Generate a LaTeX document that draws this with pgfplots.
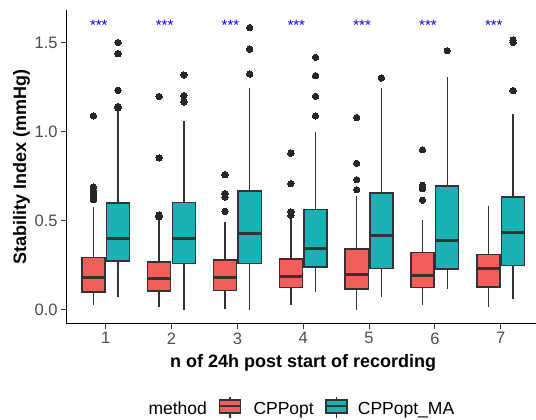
\documentclass[border=0pt]{standalone}
\usepackage{fontspec}
\setmainfont{Liberation Sans}
\usepackage{pgfplots}
\pgfplotsset{compat=1.18}
\usepgfplotslibrary{statistics}
\definecolor{cppred}{HTML}{F35E5A}
\definecolor{cppteal}{HTML}{19B2B4}
\definecolor{gray20}{HTML}{333333}
\definecolor{gray30}{HTML}{4D4D4D}

% one box: position, lower whisker, Q1, median, Q3, upper whisker, colour
\newcommand{\bx}[7]{%
  \addplot[boxplot prepared={draw position=#1, lower whisker=#2,
      lower quartile=#3, median=#4, upper quartile=#5, upper whisker=#6,
      draw direction=y},
    fill=#7, draw=gray20, line width=1.4pt,
    mark=*, mark size=3.2pt, mark options={draw=black!85, fill=black!85, line width=0pt}]}

\begin{document}
\begin{tikzpicture}[x=1pt,y=1pt]
\useasboundingbox (-66.2,-96) rectangle (469.8,324);
\begin{axis}[
  scale only axis, width=474pt, height=314pt,
  xmin=0.4, xmax=7.6, ymin=-0.0786, ymax=1.6835,
  axis x line*=bottom, axis y line*=left,
  axis line style={line width=1pt, -},
  xtick={1,...,7}, ytick={0,0.5,1,1.5},
  yticklabel style={/pgf/number format/.cd, fixed, fixed zerofill, precision=1},
  /pgf/number format/assume math mode=true,
  tick align=outside, major tick length=5pt,
  tick style={line width=1pt, black!80},
  ticklabel style={font=\fontsize{16.5}{18}\selectfont, text=gray30},
  xlabel={\bfseries n of 24h post start of recording},
  ylabel={\bfseries Stability Index (mmHg)},
  label style={font=\fontsize{18}{20}\selectfont},
  xlabel style={yshift=-3pt},
  ylabel style={yshift=-2pt},
  boxplot/box extend=0.35, boxplot/whisker extend=0,
  boxplot/every median/.style={line width=3pt},
  clip=false,
]
% day 1
\bx{0.8125}{0.028}{0.102}{0.181}{0.295}{0.578}{cppred} table[row sep=\\, y index=0] {y\\ 0.619\\ 0.635\\ 0.647\\ 0.660\\ 0.671\\ 0.690\\ 1.089\\};
\bx{1.1875}{0.074}{0.276}{0.403}{0.600}{1.125}{cppteal} table[row sep=\\, y index=0] {y\\ 1.134\\ 1.142\\ 1.233\\ 1.438\\ 1.501\\};
% day 2
\bx{1.8125}{0.019}{0.106}{0.175}{0.270}{0.547}{cppred} table[row sep=\\, y index=0] {y\\ 0.522\\ 0.532\\ 0.854\\ 1.198\\};
\bx{2.1875}{0.000}{0.261}{0.403}{0.604}{1.060}{cppteal} table[row sep=\\, y index=0] {y\\ 1.168\\ 1.203\\ 1.319\\};
% day 3
\bx{2.8125}{0.007}{0.110}{0.181}{0.280}{0.494}{cppred} table[row sep=\\, y index=0] {y\\ 0.554\\ 0.634\\ 0.653\\ 0.759\\};
\bx{3.1875}{0.000}{0.261}{0.429}{0.668}{1.244}{cppteal} table[row sep=\\, y index=0] {y\\ 1.324\\ 1.464\\ 1.585\\};
% day 4
\bx{3.8125}{0.028}{0.127}{0.190}{0.287}{0.513}{cppred} table[row sep=\\, y index=0] {y\\ 0.532\\ 0.550\\ 0.709\\ 0.880\\};
\bx{4.1875}{0.099}{0.242}{0.347}{0.563}{0.998}{cppteal} table[row sep=\\, y index=0] {y\\ 1.089\\ 1.199\\ 1.315\\ 1.418\\};
% day 5
\bx{4.8125}{0.000}{0.118}{0.201}{0.343}{0.638}{cppred} table[row sep=\\, y index=0] {y\\ 0.675\\ 0.731\\ 0.823\\ 1.080\\};
\bx{5.1875}{0.071}{0.233}{0.418}{0.657}{1.246}{cppteal} table[row sep=\\, y index=0] {y\\ 1.302\\};
% day 6
\bx{5.8125}{0.028}{0.127}{0.196}{0.323}{0.504}{cppred} table[row sep=\\, y index=0] {y\\ 0.616\\ 0.681\\ 0.700\\ 0.899\\};
\bx{6.1875}{0.116}{0.229}{0.388}{0.696}{1.306}{cppteal} table[row sep=\\, y index=0] {y\\ 1.455\\};
% day 7
\bx{6.8125}{0.015}{0.130}{0.233}{0.313}{0.582}{cppred} coordinates {};
\bx{7.1875}{0.062}{0.248}{0.433}{0.634}{1.101}{cppteal} table[row sep=\\, y index=0] {y\\ 1.231\\ 1.501\\ 1.515\\};
% significance stars
\addplot[draw=none, mark=none, nodes near coords={***},
  nodes near coords style={anchor=base, inner sep=0pt, text=blue, font=\fontsize{15}{16}\selectfont}]
  coordinates {(0.895,1.566) (1.895,1.566) (2.895,1.566) (3.895,1.566) (4.895,1.566) (5.895,1.566) (6.895,1.566)};
\end{axis}
% legend
\begin{scope}[font=\fontsize{17.5}{19}\selectfont]
\node[anchor=base west, inner sep=0pt] at (82.1,-91) {method};
\draw[gray20, line width=1.2pt] (163.8,-94) -- (163.8,-72.7);
\draw[gray20, line width=1.2pt, fill=cppred] (153.3,-89) rectangle (174.3,-76);
\draw[gray20, line width=2pt] (153.3,-82.5) -- (174.3,-82.5);
\node[anchor=base west, inner sep=0pt] at (187.1,-91) {CPPopt};
\draw[gray20, line width=1.2pt] (270.3,-94) -- (270.3,-72.7);
\draw[gray20, line width=1.2pt, fill=cppteal] (259.8,-89) rectangle (280.8,-76);
\draw[gray20, line width=2pt] (259.8,-82.5) -- (280.8,-82.5);
\node[anchor=base west, inner sep=0pt] at (291.5,-91) {CPPopt\_MA};
\end{scope}
\end{tikzpicture}
\end{document}
